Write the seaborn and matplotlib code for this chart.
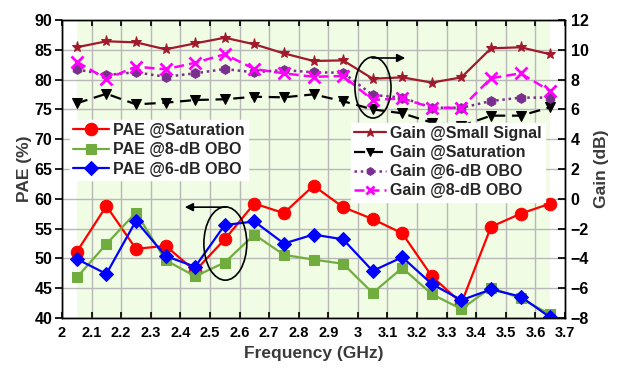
import matplotlib
matplotlib.use("Agg")
import matplotlib.pyplot as plt
from matplotlib.patches import Ellipse
import seaborn as sns
import numpy as np

sns.set_theme(style="white")
plt.rcParams["font.family"] = ["Liberation Sans", "DejaVu Sans"]
plt.rcParams["font.weight"] = "bold"

freq = [2.05, 2.15, 2.25, 2.35, 2.45, 2.55, 2.65, 2.75, 2.85,
        2.95, 3.05, 3.15, 3.25, 3.35, 3.45, 3.55, 3.65]

pae_sat = [51.1, 58.8, 51.6, 52.1, 47.9, 53.2, 59.2, 57.6, 62.2,
           58.6, 56.6, 54.2, 47.0, 42.5, 55.3, 57.5, 59.2]
pae_8db = [46.8, 52.4, 57.7, 49.7, 47.0, 49.3, 54.0, 50.6, 49.8,
           49.1, 44.2, 48.4, 44.0, 41.5, 45.1, 43.3, 40.6]
pae_6db = [49.9, 47.4, 56.3, 50.4, 48.6, 55.6, 56.2, 52.5, 54.0,
           53.2, 47.9, 50.2, 45.7, 43.0, 44.8, 43.6, 40.1]

gain_ss = [10.17, 10.57, 10.5, 10.03, 10.43, 10.81, 10.37, 9.76, 9.25,
           9.29, 8.06, 8.15, 7.8, 8.15, 10.1, 10.17, 9.7]
gain_sat = [6.41, 7.05, 6.34, 6.45, 6.63, 6.68, 6.85, 6.81, 7.01,
            6.55, 6.0, 5.74, 5.11, 4.89, 5.58, 5.58, 6.14]
gain_6db = [8.69, 8.31, 8.49, 8.19, 8.42, 8.71, 8.49, 8.64, 8.49,
            8.46, 6.97, 6.79, 6.11, 6.11, 6.56, 6.79, 6.79]
gain_8db = [9.2, 8.04, 8.87, 8.69, 9.13, 9.7, 8.71, 8.42, 8.19,
            8.24, 6.63, 6.74, 6.11, 6.11, 8.09, 8.42, 7.23]

x_ticks = [2.0, 2.1, 2.2, 2.3, 2.4, 2.5, 2.6, 2.7, 2.8, 2.9,
           3.0, 3.1, 3.2, 3.3, 3.4, 3.5, 3.6, 3.7]
x_tick_labels = ["2", "2.1", "2.2", "2.3", "2.4", "2.5", "2.6", "2.7", "2.8",
                 "2.9", "3", "3.1", "3.2", "3.3", "3.4", "3.5", "3.6", "3.7"]
pae_ticks = [40, 45, 50, 55, 60, 65, 70, 75, 80, 85, 90]
gain_ticks = [-8, -6, -4, -2, 0, 2, 4, 6, 8, 10, 12]

fig = plt.figure(figsize=(6.21, 3.70), dpi=100)
ax = fig.add_axes([62 / 621, 1 - 318 / 370, 503 / 621, 298 / 370])
ax2 = ax.twinx()

# shaded measurement band and grid
ax.axvspan(freq[0], freq[-1], color="#f1fce4", zorder=0, lw=0)
ax.set_xlim(2.0, 3.7)
ax.set_ylim(40, 90)
ax2.set_ylim(-8, 12)
ax.set_xticks(x_ticks)
ax.set_xticklabels(x_tick_labels)
ax.set_yticks(pae_ticks)
ax2.set_yticks(gain_ticks)
ax.grid(True, color="#b8b8b8", lw=1.0, zorder=0.5)
ax.set_axisbelow(True)

# PAE curves (left axis)
sns.lineplot(x=freq, y=pae_sat, ax=ax, color="#ff0000", lw=1.6, marker="o",
             markersize=9, markeredgecolor="#ff0000", label="PAE @Saturation")
sns.lineplot(x=freq, y=pae_8db, ax=ax, color="#71ac3e", lw=1.6, marker="s",
             markersize=6.5, markeredgecolor="#71ac3e", label="PAE @8-dB OBO")
sns.lineplot(x=freq, y=pae_6db, ax=ax, color="#0000ff", lw=1.6, marker="D",
             markersize=7, markeredgecolor="#0000ff", label="PAE @6-dB OBO")

# Gain curves (right axis)
sns.lineplot(x=freq, y=gain_ss, ax=ax2, color="#a01a2c", lw=1.6, marker="*",
             markersize=8, markeredgecolor="#a01a2c", label="Gain @Small Signal")
sns.lineplot(x=freq, y=gain_sat, ax=ax2, color="black", lw=1.6,
             marker="v", markersize=7, markeredgecolor="black",
             label="Gain @Saturation")
sns.lineplot(x=freq, y=gain_6db, ax=ax2, color="#7a2e8e", lw=1.8, marker="h",
             markersize=7, markeredgecolor="#7a2e8e", label="Gain @6-dB OBO")
sns.lineplot(x=freq, y=gain_8db, ax=ax2, color="#ff00ff", lw=1.8, marker="x",
             markersize=8, markeredgewidth=2, markeredgecolor="#ff00ff",
             label="Gain @8-dB OBO")
lines2 = ax2.get_lines()
lines2[1].set_dashes([5, 3])
lines2[2].set_dashes([1, 1.5])
lines2[3].set_dashes([4, 2])

# annotations: ellipses with arrows pointing to the relevant axis
ax.add_patch(Ellipse((2.552, 52.5), 0.145, 12.3, fill=False, ec="black", lw=1.2, zorder=5))
ax.annotate("", xy=(2.415, 58.6), xytext=(2.555, 58.6),
            arrowprops=dict(arrowstyle="-|>", color="black", lw=1.2,
                            shrinkA=0, shrinkB=0, mutation_scale=12), zorder=5)
ax2.add_patch(Ellipse((3.051, 7.47), 0.122, 4.1, fill=False, ec="black", lw=1.2, zorder=5))
ax2.annotate("", xy=(3.16, 9.45), xytext=(3.048, 9.45),
             arrowprops=dict(arrowstyle="-|>", color="black", lw=1.2,
                             shrinkA=0, shrinkB=0, mutation_scale=12), zorder=5)

# legends
leg1 = ax.legend(loc="upper left", bbox_to_anchor=(0.015, 0.665), frameon=True,
                 fancybox=False, framealpha=1, edgecolor="white", fontsize=11.5,
                 handlelength=2.3, handletextpad=0.25, borderpad=0.2,
                 labelspacing=0.28, borderaxespad=0)
for t in leg1.get_texts():
    t.set_fontweight("bold")
leg2 = ax2.legend(loc="upper left", bbox_to_anchor=(0.575, 0.655), frameon=True,
                  fancybox=False, framealpha=1, edgecolor="white", fontsize=11.5,
                  handlelength=2.0, handletextpad=0.25, borderpad=0.2,
                  labelspacing=0.26, borderaxespad=0, markerscale=0.8)
for t in leg2.get_texts():
    t.set_fontweight("bold")

# axis styling
for a in (ax, ax2):
    for s in a.spines.values():
        s.set_color("black")
        s.set_linewidth(1.0)
ax.tick_params(axis="x", direction="in", top=True, bottom=True, length=4,
               labelsize=10.5, colors="black", pad=6)
ax.tick_params(axis="y", direction="out", left=True, length=5,
               labelsize=11.5, colors="black", pad=2)
ax2.tick_params(axis="y", direction="in", right=True, length=5,
                labelsize=11.5, colors="black", pad=4)
for lab in ax.get_xticklabels() + ax.get_yticklabels() + ax2.get_yticklabels():
    lab.set_fontweight("bold")

ax.set_xlabel("Frequency (GHz)", fontsize=12.5, fontweight="bold", color="#3a3a3a", labelpad=4)
ax.set_ylabel("PAE (%)", fontsize=12.5, fontweight="bold", color="#3a3a3a", labelpad=2)
ax2.set_ylabel("Gain (dB)", fontsize=12.5, fontweight="bold", color="#3a3a3a", labelpad=4)

fig.savefig("out.png", dpi=100)
